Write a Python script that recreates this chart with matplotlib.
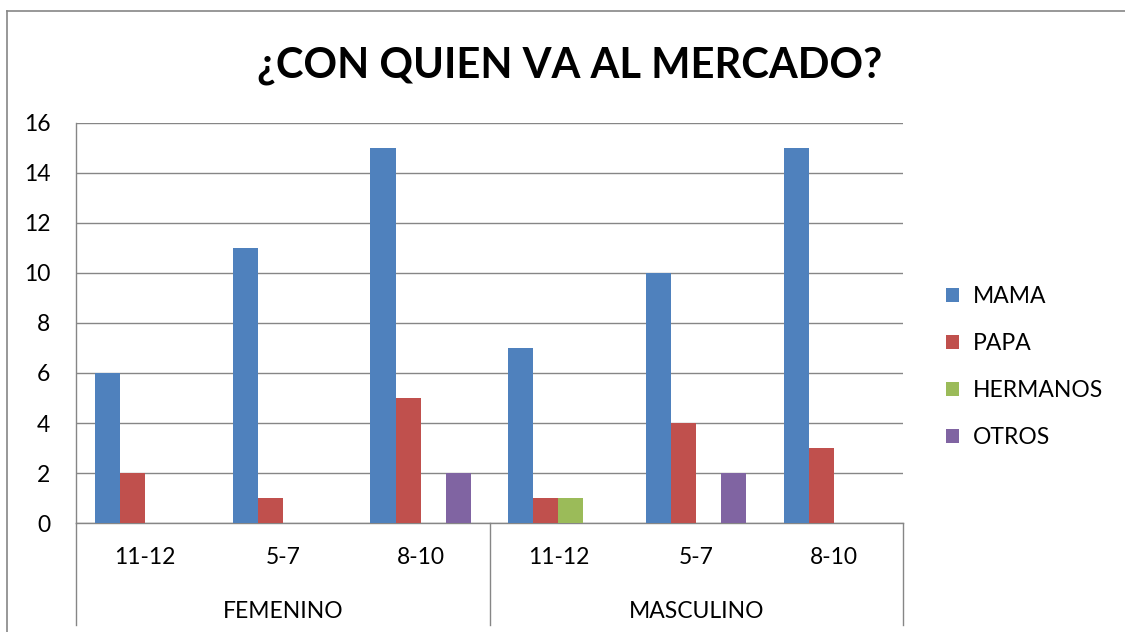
import matplotlib
matplotlib.use("Agg")
import matplotlib.pyplot as plt
import numpy as np
from matplotlib.lines import Line2D
from matplotlib.patches import Patch
import matplotlib.transforms as mtransforms

plt.rcParams['font.family'] = ['Lato', 'DejaVu Sans']

# data
age_groups = ['11-12', '5-7', '8-10', '11-12', '5-7', '8-10']
genders = ['FEMENINO', 'MASCULINO']
series_names = ['MAMA', 'PAPA', 'HERMANOS', 'OTROS']
mama = [6, 11, 15, 7, 10, 15]
papa = [2, 1, 5, 1, 4, 3]
hermanos = [0, 0, 0, 1, 0, 0]
otros = [0, 0, 2, 0, 2, 0]
colors = ['#4F81BD', '#C0504D', '#9BBB59', '#8064A2']

W, H = 1125, 632
fs = 16.5
fig = plt.figure(figsize=(W / 100, H / 100), dpi=100)
ax = fig.add_axes([76 / W, 1 - 523 / H, 827 / W, 400 / H])

gray = '#868686'
n = len(series_names)
gap = 1.5
bw = 1 / (n + gap)
x = np.arange(len(age_groups))
for i, (name, vals) in enumerate(zip(series_names, [mama, papa, hermanos, otros])):
    pos = x - 0.5 + (gap / 2 + i + 0.5) * bw
    ax.bar(pos, vals, width=bw, color=colors[i], label=name, zorder=3)

ax.set_xlim(-0.5, len(age_groups) - 0.5)
ax.set_ylim(0, 16)
ax.set_yticks(range(0, 17, 2))
ax.tick_params(axis='y', length=0, labelsize=fs, pad=18.5)
ax.set_xticks([])
ax.grid(axis='y', color=gray, linewidth=1, zorder=0)
for s in ['top', 'right']:
    ax.spines[s].set_visible(False)
for s in ['left', 'bottom']:
    ax.spines[s].set_color(gray)
    ax.spines[s].set_linewidth(1)

trans = mtransforms.blended_transform_factory(ax.transData, ax.transAxes)
for xi, lab in zip(x, age_groups):
    ax.text(xi, -0.085, lab, transform=trans, ha='center', va='center', fontsize=fs)
for gi, g in enumerate(genders):
    ax.text(gi * 3 + 1, -0.222, g, transform=trans, ha='center', va='center', fontsize=fs)
for xv in [-0.5, 2.5, 5.5]:
    ax.plot([xv, xv], [0, -0.255], transform=trans, color=gray, lw=1, clip_on=False)

fig.text(570 / W, 1 - 66 / H, '¿CON QUIEN VA AL MERCADO?', ha='center', va='center',
         fontsize=30, fontweight='bold')

handles = [Patch(facecolor=c) for c in colors]
fig.legend(handles, series_names, loc='center left', bbox_to_anchor=(935 / W, 1 - 367 / H),
           frameon=False, fontsize=fs, handlelength=0.55, handleheight=0.55,
           handletextpad=0.6, labelspacing=1.13, borderpad=0)

# outer chart border
fig.add_artist(Line2D([7 / W, 7 / W], [0, 1 - 11 / H], color=gray, lw=1.2, transform=fig.transFigure))
fig.add_artist(Line2D([7 / W, 1], [1 - 11 / H, 1 - 11 / H], color=gray, lw=1.2, transform=fig.transFigure))

fig.savefig('out.png', dpi=100)
